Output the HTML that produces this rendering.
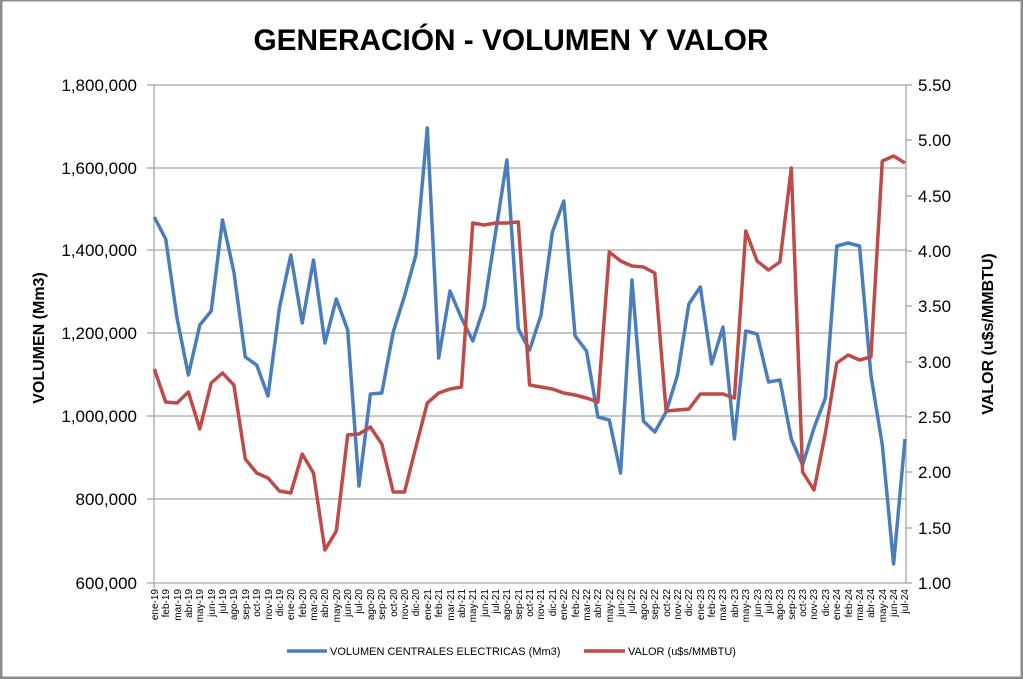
<!DOCTYPE html>
<html><head><meta charset="utf-8"><style>
html,body{margin:0;padding:0;background:#fff;}
svg{display:block;font-family:"Liberation Sans",Arial,sans-serif;}
</style></head><body>
<svg width="1023" height="679" viewBox="0 0 1023 679" xmlns="http://www.w3.org/2000/svg">
<rect x="1" y="0" width="1021" height="678" fill="#fff" stroke="#8c8c8c" stroke-width="3"/>
<text x="511" y="50" text-anchor="middle" font-size="30" font-weight="bold" fill="#000" textLength="515" lengthAdjust="spacingAndGlyphs">GENERACIÓN - VOLUMEN Y VALOR</text>
<g stroke="#a6a6a6" stroke-width="1.3">
<line x1="154" y1="85" x2="906" y2="85"/><line x1="154" y1="168" x2="906" y2="168"/>
<line x1="154" y1="250" x2="906" y2="250"/><line x1="154" y1="333" x2="906" y2="333"/>
<line x1="154" y1="416" x2="906" y2="416"/><line x1="154" y1="499" x2="906" y2="499"/>
<line x1="154" y1="583" x2="906" y2="583"/>
<line x1="154" y1="85" x2="154" y2="588"/><line x1="906" y1="85" x2="906" y2="583"/>
<line x1="147" y1="85" x2="154" y2="85"/><line x1="147" y1="168" x2="154" y2="168"/><line x1="147" y1="250" x2="154" y2="250"/><line x1="147" y1="333" x2="154" y2="333"/><line x1="147" y1="416" x2="154" y2="416"/><line x1="147" y1="499" x2="154" y2="499"/><line x1="147" y1="583" x2="154" y2="583"/>
<line x1="906" y1="85" x2="912" y2="85"/><line x1="906" y1="140" x2="912" y2="140"/><line x1="906" y1="196" x2="912" y2="196"/><line x1="906" y1="251" x2="912" y2="251"/><line x1="906" y1="306" x2="912" y2="306"/><line x1="906" y1="362" x2="912" y2="362"/><line x1="906" y1="417" x2="912" y2="417"/><line x1="906" y1="472" x2="912" y2="472"/><line x1="906" y1="528" x2="912" y2="528"/><line x1="906" y1="583" x2="912" y2="583"/>
</g>
<g font-size="17" fill="#000" text-anchor="end">
<text x="137" y="91">1,800,000</text><text x="137" y="174">1,600,000</text><text x="137" y="256">1,400,000</text><text x="137" y="339">1,200,000</text><text x="137" y="422">1,000,000</text><text x="137" y="505">800,000</text><text x="137" y="589">600,000</text>
</g>
<g font-size="17" fill="#000">
<text x="918" y="91">5.50</text><text x="918" y="146">5.00</text><text x="918" y="202">4.50</text><text x="918" y="257">4.00</text><text x="918" y="312">3.50</text><text x="918" y="368">3.00</text><text x="918" y="423">2.50</text><text x="918" y="478">2.00</text><text x="918" y="534">1.50</text><text x="918" y="589">1.00</text>
</g>
<text transform="translate(44,338) rotate(-90)" text-anchor="middle" font-size="16" font-weight="bold">VOLUMEN (Mm3)</text>
<text transform="translate(993,334) rotate(-90)" text-anchor="middle" font-size="16" font-weight="bold">VALOR (u$s/MMBTU)</text>
<g font-size="10" fill="#000" text-anchor="end">
<text transform="translate(158,589) rotate(-90)">ene-19</text><text transform="translate(169,589) rotate(-90)">feb-19</text><text transform="translate(181,589) rotate(-90)">mar-19</text><text transform="translate(192,589) rotate(-90)">abr-19</text><text transform="translate(203,589) rotate(-90)">may-19</text><text transform="translate(215,589) rotate(-90)">jun-19</text><text transform="translate(226,589) rotate(-90)">jul-19</text><text transform="translate(237,589) rotate(-90)">ago-19</text><text transform="translate(249,589) rotate(-90)">sep-19</text><text transform="translate(260,589) rotate(-90)">oct-19</text><text transform="translate(272,589) rotate(-90)">nov-19</text><text transform="translate(283,589) rotate(-90)">dic-19</text>
<text transform="translate(294,589) rotate(-90)">ene-20</text><text transform="translate(306,589) rotate(-90)">feb-20</text><text transform="translate(317,589) rotate(-90)">mar-20</text><text transform="translate(328,589) rotate(-90)">abr-20</text><text transform="translate(340,589) rotate(-90)">may-20</text><text transform="translate(351,589) rotate(-90)">jun-20</text><text transform="translate(362,589) rotate(-90)">jul-20</text><text transform="translate(374,589) rotate(-90)">ago-20</text><text transform="translate(385,589) rotate(-90)">sep-20</text><text transform="translate(397,589) rotate(-90)">oct-20</text><text transform="translate(408,589) rotate(-90)">nov-20</text><text transform="translate(419,589) rotate(-90)">dic-20</text>
<text transform="translate(431,589) rotate(-90)">ene-21</text><text transform="translate(442,589) rotate(-90)">feb-21</text><text transform="translate(454,589) rotate(-90)">mar-21</text><text transform="translate(465,589) rotate(-90)">abr-21</text><text transform="translate(476,589) rotate(-90)">may-21</text><text transform="translate(488,589) rotate(-90)">jun-21</text><text transform="translate(499,589) rotate(-90)">jul-21</text><text transform="translate(510,589) rotate(-90)">ago-21</text><text transform="translate(522,589) rotate(-90)">sep-21</text><text transform="translate(533,589) rotate(-90)">oct-21</text><text transform="translate(544,589) rotate(-90)">nov-21</text><text transform="translate(556,589) rotate(-90)">dic-21</text>
<text transform="translate(567,589) rotate(-90)">ene-22</text><text transform="translate(579,589) rotate(-90)">feb-22</text><text transform="translate(590,589) rotate(-90)">mar-22</text><text transform="translate(601,589) rotate(-90)">abr-22</text><text transform="translate(613,589) rotate(-90)">may-22</text><text transform="translate(624,589) rotate(-90)">jun-22</text><text transform="translate(635,589) rotate(-90)">jul-22</text><text transform="translate(647,589) rotate(-90)">ago-22</text><text transform="translate(658,589) rotate(-90)">sep-22</text><text transform="translate(670,589) rotate(-90)">oct-22</text><text transform="translate(681,589) rotate(-90)">nov-22</text><text transform="translate(692,589) rotate(-90)">dic-22</text>
<text transform="translate(704,589) rotate(-90)">ene-23</text><text transform="translate(715,589) rotate(-90)">feb-23</text><text transform="translate(726,589) rotate(-90)">mar-23</text><text transform="translate(738,589) rotate(-90)">abr-23</text><text transform="translate(749,589) rotate(-90)">may-23</text><text transform="translate(761,589) rotate(-90)">jun-23</text><text transform="translate(772,589) rotate(-90)">jul-23</text><text transform="translate(783,589) rotate(-90)">ago-23</text><text transform="translate(795,589) rotate(-90)">sep-23</text><text transform="translate(806,589) rotate(-90)">oct-23</text><text transform="translate(817,589) rotate(-90)">nov-23</text><text transform="translate(829,589) rotate(-90)">dic-23</text>
<text transform="translate(840,589) rotate(-90)">ene-24</text><text transform="translate(852,589) rotate(-90)">feb-24</text><text transform="translate(863,589) rotate(-90)">mar-24</text><text transform="translate(874,589) rotate(-90)">abr-24</text><text transform="translate(886,589) rotate(-90)">may-24</text><text transform="translate(897,589) rotate(-90)">jun-24</text><text transform="translate(908,589) rotate(-90)">jul-24</text>
</g>
<polyline fill="none" stroke="#4a7ebb" stroke-width="3.5" stroke-linejoin="round" points="154.3,217 165.7,239 177,318 188.4,375 199.8,325 211.2,311 222.5,220 233.9,272 245.3,357 256.7,365 268,396 279.4,308 290.8,255 302.2,323 313.5,260 324.9,343 336.3,299 347.7,330 359,486 370.4,394 381.8,393 393.2,332 404.5,296 415.9,255 427.3,128 438.7,358 450,291 461.4,318 472.8,341 484.1,307 495.5,233 506.9,160 518.3,329 529.6,350 541,315 552.4,232 563.8,201 575.1,336 586.5,351 597.9,417 609.3,420 620.6,473 632,280 643.4,421 654.8,432 666.1,412 677.5,375 688.9,304 700.3,287 711.6,364 723,327 734.4,439 745.8,331 757.1,334 768.5,382 779.9,380 791.3,439 802.6,465 814,428 825.4,398 836.8,246 848.1,243 859.5,246 870.9,375 882.3,445 893.6,564 905,439"/>
<polyline fill="none" stroke="#be4b48" stroke-width="3.5" stroke-linejoin="round" points="154.3,369 165.7,402 177,403 188.4,392 199.8,429 211.2,383 222.5,373 233.9,385 245.3,459 256.7,473 268,478 279.4,491 290.8,493 302.2,454 313.5,473 324.9,550 336.3,531 347.7,435 359,434 370.4,427 381.8,444 393.2,492 404.5,492 415.9,447 427.3,403 438.7,393 450,389 461.4,387 472.8,223 484.1,225 495.5,223 506.9,223 518.3,222 529.6,385 541,387 552.4,389 563.8,393 575.1,395 586.5,398 597.9,402 609.3,252 620.6,261 632,266 643.4,267 654.8,273 666.1,411 677.5,410 688.9,409 700.3,394 711.6,394 723,394 734.4,398 745.8,231 757.1,261 768.5,270 779.9,262 791.3,168 802.6,472 814,490 825.4,433 836.8,363 848.1,355 859.5,360 870.9,357 882.3,161 893.6,156 905,163"/>
<line x1="287" y1="651" x2="327" y2="651" stroke="#4a7ebb" stroke-width="3.5"/>
<text x="330" y="655" font-size="11">VOLUMEN CENTRALES ELECTRICAS (Mm3)</text>
<line x1="584" y1="651" x2="625" y2="651" stroke="#be4b48" stroke-width="3.5"/>
<text x="628" y="655" font-size="11">VALOR (u$s/MMBTU)</text>
</svg>
</body></html>
